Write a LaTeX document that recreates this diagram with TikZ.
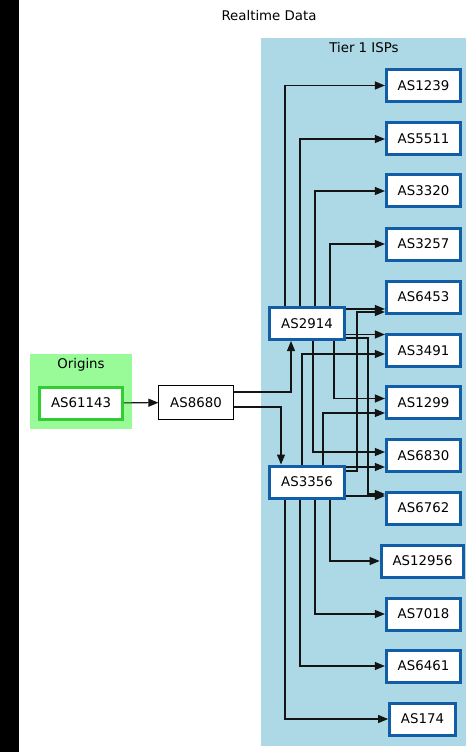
\documentclass[tikz,border=0pt]{standalone}
\usepackage{fontspec}
\setmainfont{DejaVu Sans}
\usetikzlibrary{arrows.meta,calc}
\definecolor{tierfill}{RGB}{173,216,230}
\definecolor{tierline}{RGB}{18,94,166}
\definecolor{origfill}{RGB}{152,251,152}
\definecolor{origline}{RGB}{50,205,50}
\colorlet{wirecol}{black!92}
\tikzset{asbox/.style={draw, fill=white, inner xsep=8.5pt, inner ysep=0pt, minimum height=24pt},
  tier/.style={asbox, draw=tierline, line width=2.25pt},
  origin/.style={asbox, draw=origline, line width=2.25pt},
  transit/.style={asbox, draw=black, line width=0.75pt, minimum height=25.5pt},
  link/.style={draw=wirecol, line width=0.8pt, -{Triangle[length=7.5pt,width=6pt]}}}

\begin{document}
\begin{tikzpicture}[x=0.75pt,y=-0.75pt]
\useasboundingbox (0,0) rectangle (471,752);
\fill[black] (0,0) rectangle (19,752);
\node (title) at (269,16) {Realtime Data};
\fill[tierfill] (261,38) rectangle (466,746);
\node (tierlabel) at (364,48) {Tier 1 ISPs};
\fill[origfill] (30,354) rectangle (132,429);
\node (origlabel) at (81,365) {Origins};
\node[origin] (as61143) at (81,403) {AS61143};
\node[transit] (as8680) at (196,402.5) {AS8680};
\node[tier] (as2914) at (307,323.5) {AS2914};
\node[tier] (as3356) at (307,482) {AS3356};
\node[tier] (as1239) at (423.5,85.5) {AS1239};
\node[tier] (as5511) at (423.5,139) {AS5511};
\node[tier] (as3320) at (423.5,191) {AS3320};
\node[tier] (as3257) at (423.5,244) {AS3257};
\node[tier] (as6453) at (423.5,297) {AS6453};
\node[tier] (as3491) at (423.5,350.5) {AS3491};
\node[tier] (as1299) at (423.5,402.5) {AS1299};
\node[tier] (as6830) at (423.5,455.5) {AS6830};
\node[tier] (as6762) at (423.5,508) {AS6762};
\node[tier] (as12956) at (422.5,561) {AS12956};
\node[tier] (as7018) at (423.5,614) {AS7018};
\node[tier] (as6461) at (423.5,666) {AS6461};
\node[tier] (as174) at (422.5,719) {AS174};
\foreach \x in {281,285,291,300,302,313,315,323,330,334,357,368} \coordinate (l\x) at (\x,0);
\draw[link] (as61143) -- (as8680);
\draw[link] ($(as8680.east)+(0,-10.5)$) -| (as2914.south -| l291);
\draw[link] ($(as8680.east)+(0,4.5)$) -| (as3356.north -| l281);
\foreach \t/\l in {as1239/l285,as5511/l300,as3320/l315,as3257/l330} \draw[link] (as2914.north -| \l) |- (\t);
\foreach \t/\l in {as174/l285,as6461/l300,as7018/l315,as12956/l330} \draw[link] (as3356.south -| \l) |- (\t);
\draw[link] ($(as2914.east)+(0,-14.5)$) coordinate (a) -- (a -| as6453.west);
\draw[link] ($(as3356.east)+(0,-11)$) -| ($(as6453.west -| l357)+(0,15)$) -- ($(as6453.west)+(0,15)$);
\draw[link] ($(as2914.east)+(0,11)$) coordinate (a) -- (a -| as3491.west);
\draw[link] (as3356.north -| l302) |- ($(as3491.west)+(0,3.5)$);
\draw[link] (as2914.south -| l334) |- ($(as1299.west)+(0,-4)$);
\draw[link] (as3356.north -| l323) |- ($(as1299.west)+(0,10.5)$);
\draw[link] (as2914.south -| l313) |- ($(as6830.west)+(0,-3.5)$);
\draw[link] ($(as3356.east)+(0,-15)$) coordinate (a) -- (a -| as6830.west);
\draw[link] ($(as2914.east)+(0,14.5)$) -| ($(as6762.west -| l368)+(0,-14)$) -- ($(as6762.west)+(0,-14)$);
\draw[link] ($(as3356.east)+(0,14)$) coordinate (a) -- (a -| as6762.west);
\end{tikzpicture}
\end{document}
